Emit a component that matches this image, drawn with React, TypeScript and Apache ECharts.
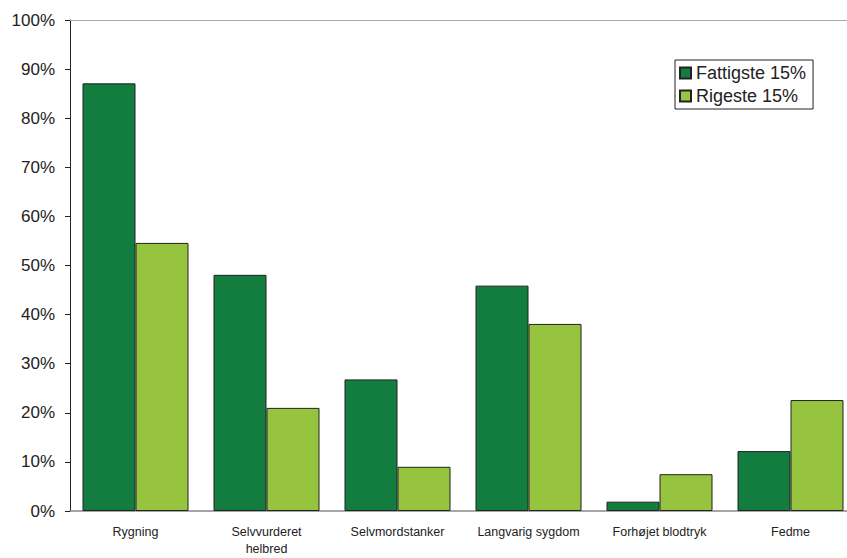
import React, { useEffect, useRef } from "react";
import * as echarts from "echarts";

const categories = ["Rygning", "Selvvurderet\nhelbred", "Selvmordstanker", "Langvarig sygdom", "Forhøjet blodtryk", "Fedme"];
const fattigste = [87.1, 48.1, 26.8, 45.9, 1.9, 12.2];
const rigeste = [54.6, 21.0, 9.0, 38.1, 7.5, 22.6];
const seriesNames = ["Fattigste 15%", "Rigeste 15%"];

export default function App() {
  const ref = useRef<HTMLDivElement>(null);
  useEffect(() => {
    document.body.style.margin = "0";
    const chart = echarts.init(ref.current!, null, { renderer: "svg" });
    chart.setOption({
      animation: false,
      textStyle: { fontFamily: "Liberation Sans, Arial, sans-serif" },
      grid: { left: 70, right: -9, top: 20, bottom: 47, containLabel: false, outerBoundsMode: "none" },
      legend: {
        orient: "vertical",
        left: 675,
        top: 60,
        padding: [3, 7, 3, 4],
        itemGap: 3,
        itemWidth: 11,
        itemHeight: 11,
        borderColor: "#222",
        borderWidth: 1,
        borderRadius: 0,
        icon: "rect",
        textStyle: { fontSize: 18, lineHeight: 20, color: "#222", padding: [0, 0, 0, 0] },
        data: seriesNames,
      },
      xAxis: [
        {
          type: "category",
          data: categories,
          axisLine: { lineStyle: { color: "#888", width: 1.5 } },
          axisTick: { show: false },
          axisLabel: { fontSize: 12.5, color: "#222", margin: 12, lineHeight: 17, interval: 0 },
          splitLine: { show: false },
        },
        {
          type: "category",
          position: "top",
          data: categories,
          axisLine: { show: true, lineStyle: { color: "#aaa", width: 1 } },
          axisTick: { show: false },
          axisLabel: { show: false },
        },
      ],
      yAxis: {
        type: "value",
        min: 0,
        max: 100,
        interval: 10,
        axisLine: { show: true, lineStyle: { color: "#222", width: 1 } },
        axisTick: { show: true, length: 5, lineStyle: { color: "#222" } },
        axisLabel: { fontSize: 17, color: "#222", margin: 15, formatter: "{value}%" },
        splitLine: { show: false },
      },
      series: [
        {
          name: seriesNames[0],
          type: "bar",
          data: fattigste,
          barWidth: 53,
          barGap: "0%",
          itemStyle: { color: "#137d3f", borderColor: "#222", borderWidth: 1 },
        },
        {
          name: seriesNames[1],
          type: "bar",
          data: rigeste,
          barWidth: 53,
          barGap: "0%",
          itemStyle: { color: "#96c43e", borderColor: "#222", borderWidth: 1 },
        },
      ],
    });
    return () => chart.dispose();
  }, []);
  return <div ref={ref} style={{ width: 847, height: 558 }} />;
}
